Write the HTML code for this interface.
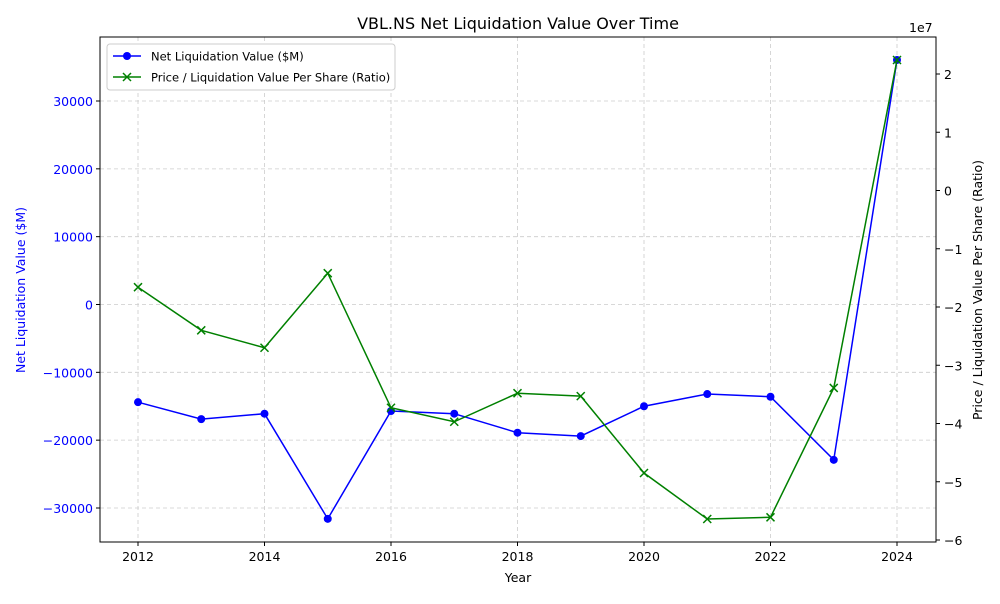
<!DOCTYPE html>
<html><head><meta charset="utf-8"><style>
body{margin:0;background:#fff;font-family:"DejaVu Sans",sans-serif}
</style></head><body>
<svg id="chart" width="1000" height="600" xmlns="http://www.w3.org/2000/svg" font-family="DejaVu Sans, sans-serif">
<rect width="1000" height="600" fill="#fff"/>
<text x="518" y="29" font-size="16" text-anchor="middle">VBL.NS Net Liquidation Value Over Time</text>
<g id="grid"></g><g id="axes"></g><g id="series"></g>
<rect x="100" y="37" width="836" height="505" fill="none" stroke="#000" stroke-width="1"/>
<text x="518" y="582" font-size="12.5" text-anchor="middle">Year</text>
<text transform="translate(25,290) rotate(-90)" font-size="12.5" fill="blue" text-anchor="middle">Net Liquidation Value ($M)</text>
<text transform="translate(982,290) rotate(-90)" font-size="12.5" text-anchor="middle">Price / Liquidation Value Per Share (Ratio)</text>
<text x="909" y="32" font-size="12.5">1e7</text>
<g>
<rect x="107" y="44" width="288" height="46" rx="3" fill="#fff" stroke="#ccc"/>
<line x1="113" y1="56" x2="141" y2="56" stroke="blue" stroke-width="1.5"/><circle cx="127" cy="56" r="4" fill="blue"/>
<text x="151" y="60.5" font-size="11.5">Net Liquidation Value ($M)</text>
<line x1="113" y1="77" x2="141" y2="77" stroke="green" stroke-width="1.5"/>
<path d="M123 73 L131 81 M131 73 L123 81" stroke="green" stroke-width="1.5"/>
<text x="151" y="81.5" font-size="11.5">Price / Liquidation Value Per Share (Ratio)</text>
</g>
</svg>
<script>
const years=[2012,2013,2014,2015,2016,2017,2018,2019,2020,2021,2022,2023,2024];
const nlv=[-14400,-16900,-16100,-31600,-15700,-16100,-18900,-19400,-15000,-13200,-13600,-22900,36050];
const ratio=[-1.66,-2.40,-2.70,-1.42,-3.73,-3.97,-3.48,-3.53,-4.85,-5.64,-5.61,-3.39,2.24];
const xTicks=[2012,2014,2016,2018,2020,2022,2024];
const yTicksL=[-30000,-20000,-10000,0,10000,20000,30000];
const yTicksR=[-6,-5,-4,-3,-2,-1,0,1,2];
const NS="http://www.w3.org/2000/svg";
const L=100,R=936,T=37,B=542;
const x=v=>138+(v-2012)*(897-138)/12;
const yL=v=>304.5-v*6.783/1000;
const yR=v=>190.5-v*58.25;
function mk(tag,attrs,parent){const e=document.createElementNS(NS,tag);for(const k in attrs)e.setAttribute(k,attrs[k]);document.getElementById(parent).appendChild(e);return e;}
xTicks.forEach(t=>{
 const g=mk('line',{x1:x(t),x2:x(t),y1:T,y2:B,stroke:'#ccc','stroke-dasharray':'4,3','stroke-width':0.8},'grid');
 
 
 mk('line',{x1:x(t),x2:x(t),y1:B,y2:B+4,stroke:'#000'},'axes');
 const tx=mk('text',{x:x(t),y:B+19,'font-size':12.5,'text-anchor':'middle'},'axes');tx.textContent=t;
 
 
});
yTicksL.forEach(t=>{
 const g=mk('line',{x1:L,x2:R,y1:yL(t),y2:yL(t),stroke:'#ccc','stroke-dasharray':'4,3','stroke-width':0.8},'grid');
 
 
 mk('line',{x1:L-4,x2:L,y1:yL(t),y2:yL(t),stroke:'#000'},'axes');
 const tx=mk('text',{x:L-7,y:yL(t)+5,'font-size':12.5,'text-anchor':'end',fill:'blue'},'axes');tx.textContent=t<0?'\u2212'+(-t):t;
 
 
});
yTicksR.forEach(t=>{
 mk('line',{x1:R,x2:R+4,y1:yR(t),y2:yR(t),stroke:'#000'},'axes');
 const tx=mk('text',{x:R+8,y:yR(t)+5,'font-size':12.5},'axes');tx.textContent=t<0?'\u2212'+(-t):t;
 
 
});
const p1=mk('polyline',{points:years.map((y,i)=>x(y)+','+yL(nlv[i])).join(' '),fill:'none',stroke:'blue','stroke-width':1.5},'series');


years.forEach((y,i)=>{const c=mk('circle',{cx:x(y),cy:yL(nlv[i]),r:4,fill:'blue'},'series');
 
 });
const p2=mk('polyline',{points:years.map((y,i)=>x(y)+','+yR(ratio[i])).join(' '),fill:'none',stroke:'green','stroke-width':1.5},'series');


years.forEach((y,i)=>{const cx=x(y),cy=yR(ratio[i]);
 const m=mk('path',{d:`M${cx-4} ${cy-4}L${cx+4} ${cy+4}M${cx+4} ${cy-4}L${cx-4} ${cy+4}`,stroke:'green','stroke-width':1.5},'series');
 
 });
</script>
</body></html>
